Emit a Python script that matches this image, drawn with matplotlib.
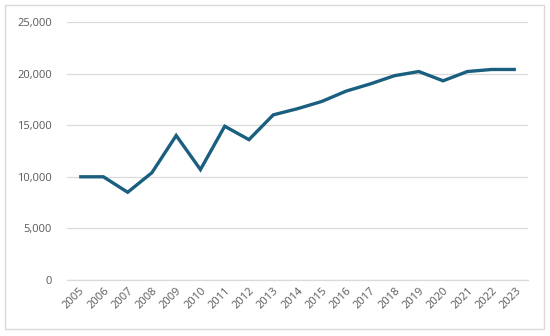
import matplotlib
matplotlib.use("Agg")
import matplotlib.pyplot as plt
from matplotlib.patches import Rectangle
from matplotlib.ticker import FuncFormatter

years = [str(y) for y in range(2005, 2024)]
values = [10000, 10000, 8500, 10400, 14000, 10700, 14900, 13600, 16000,
          16600, 17300, 18300, 19000, 19800, 20200, 19300, 20200, 20400, 20400]
y_ticks = [0, 5000, 10000, 15000, 20000, 25000]

plt.rcParams["font.family"] = ["Open Sans", "DejaVu Sans"]

fig = plt.figure(figsize=(5.5, 3.36), dpi=100)
ax = fig.add_axes([67 / 550, 1 - 280 / 336, (528 - 67) / 550, (280 - 22) / 336])

# outer chart frame like the spreadsheet chart area
fig.patches.append(Rectangle((5 / 550, 1 - 329 / 336), 539 / 550, 324 / 336,
                             transform=fig.transFigure, fill=False,
                             edgecolor="#d9d9d9", linewidth=1))

x = list(range(len(years)))
ax.plot(x, values, color="#1a5f7f", linewidth=2.4, solid_joinstyle="miter",
        solid_capstyle="butt", zorder=3)

ax.set_xlim(-0.5, len(years) - 0.5)
ax.set_ylim(0, 25000)
ax.set_yticks(y_ticks)
ax.yaxis.set_major_formatter(FuncFormatter(lambda v, p: f"{int(v):,}"))
ax.grid(axis="y", color="#d9d9d9", linewidth=0.9)
ax.set_axisbelow(True)

ax.set_xticks(x)
ax.set_xticklabels(years, rotation=45, ha="right", rotation_mode="anchor")
ax.tick_params(axis="both", length=0, labelsize=8, colors="#595959")
ax.tick_params(axis="y", pad=11)
ax.tick_params(axis="x", pad=4)

for s in ["top", "right", "left"]:
    ax.spines[s].set_visible(False)
ax.spines["bottom"].set_color("#d9d9d9")
ax.spines["bottom"].set_linewidth(0.9)

fig.savefig("out.png", dpi=100)
